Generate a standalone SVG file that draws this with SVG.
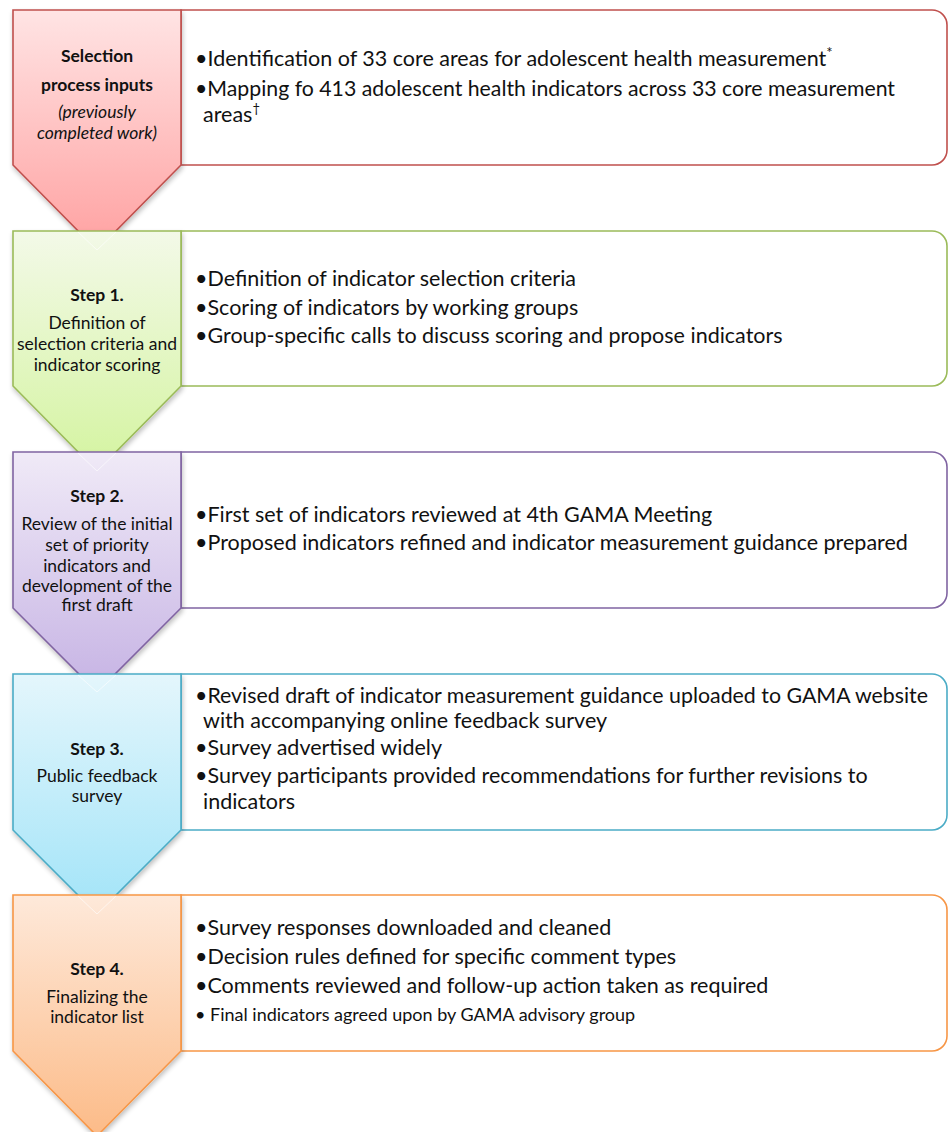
<svg xmlns="http://www.w3.org/2000/svg" width="948" height="1132" viewBox="0 0 948 1132">
<style>
.t{font-family:Lato,"Liberation Sans",sans-serif;font-size:21.5px;fill:#111}
.s{font-size:18px}
.l{font-family:Lato,"Liberation Sans",sans-serif;font-size:17.5px;fill:#111;text-anchor:middle}
.b{font-weight:bold}
.i{font-style:italic}
.box{fill:#fff;stroke-width:1.6}
.chev{stroke-width:1.6;filter:url(#sh)}
.ghost{fill:none;stroke:#fff;stroke-width:1;opacity:.6}
</style>
<defs>
<filter id="sh" x="-10%" y="-10%" width="130%" height="130%">
<feGaussianBlur in="SourceAlpha" stdDeviation="2.5"/>
<feOffset dx="1" dy="3" result="b"/>
<feComponentTransfer><feFuncA type="linear" slope="0.25"/></feComponentTransfer>
<feMerge><feMergeNode/><feMergeNode in="SourceGraphic"/></feMerge>
</filter>
<linearGradient id="gr" x1="0" y1="0" x2="0" y2="1"><stop offset="0" stop-color="#ffe4e4"/><stop offset="1" stop-color="#ffa1a1"/></linearGradient>
<linearGradient id="gg" x1="0" y1="0" x2="0" y2="1"><stop offset="0" stop-color="#f3f9e8"/><stop offset="1" stop-color="#d4f4a0"/></linearGradient>
<linearGradient id="gp" x1="0" y1="0" x2="0" y2="1"><stop offset="0" stop-color="#f0eaf7"/><stop offset="1" stop-color="#c6b3e4"/></linearGradient>
<linearGradient id="gb" x1="0" y1="0" x2="0" y2="1"><stop offset="0" stop-color="#e4f6fc"/><stop offset="1" stop-color="#a2e4f8"/></linearGradient>
<linearGradient id="go" x1="0" y1="0" x2="0" y2="1"><stop offset="0" stop-color="#fee9da"/><stop offset="1" stop-color="#fcbb88"/></linearGradient>
</defs>
<g id="connectors"/>

<g id="node-inputs">
<path class="box" stroke="#c0504d" d="M181,10 H932 A15,15 0 0 1 947,25 V150 A15,15 0 0 1 932,165 H181 Z"/>
<polygon class="chev" fill="url(#gr)" stroke="#c0504d" points="13,10 181,10 181,165 97,250 13,165"/>
<text class="l b" x="97" y="62">Selection</text>
<text class="l b" x="97" y="91">process inputs</text>
<text class="l i" x="97" y="118">(previously</text>
<text class="l i" x="97" y="139">completed work)</text>
<text class="t" x="195" y="66">•Identification of 33 core areas for adolescent health measurement<tspan font-size="15" dy="-8">*</tspan></text>
<text class="t" x="195" y="96" textLength="700" lengthAdjust="spacingAndGlyphs">•Mapping fo 413 adolescent health indicators across 33 core measurement</text>
<text class="t" x="203" y="122">areas<tspan font-size="13" dy="-9">†</tspan></text>
</g>

<g id="node-step1">
<path class="box" stroke="#9bbb59" d="M181,231 H932 A15,15 0 0 1 947,246 V371 A15,15 0 0 1 932,386 H181 Z"/>
<polygon class="chev" fill="url(#gg)" stroke="#9bbb59" points="13,231 181,231 181,386 97,471 13,386"/>
<polyline class="ghost" points="78,232 97,250 116,232"/>
<text class="l b" x="97" y="301">Step 1.</text>
<text class="l" x="97" y="329">Definition of</text>
<text class="l" x="97" y="350">selection criteria and</text>
<text class="l" x="97" y="371">indicator scoring</text>
<text class="t" x="195" y="286">•Definition of indicator selection criteria</text>
<text class="t" x="195" y="315">•Scoring of indicators by working groups</text>
<text class="t" x="195" y="343">•Group-specific calls to discuss scoring and propose indicators</text>
</g>

<g id="node-step2">
<path class="box" stroke="#8064a2" d="M181,452 H932 A15,15 0 0 1 947,467 V593 A15,15 0 0 1 932,608 H181 Z"/>
<polygon class="chev" fill="url(#gp)" stroke="#8064a2" points="13,452 181,452 181,608 97,692 13,608"/>
<polyline class="ghost" points="78,453 97,471 116,453"/>
<text class="l b" x="97" y="502">Step 2.</text>
<text class="l" x="97" y="530">Review of the initial</text>
<text class="l" x="97" y="551">set of priority</text>
<text class="l" x="97" y="572">indicators and</text>
<text class="l" x="97" y="592">development of the</text>
<text class="l" x="97" y="611">first draft</text>
<text class="t" x="195" y="522">•First set of indicators reviewed at 4th GAMA Meeting</text>
<text class="t" x="195" y="550">•Proposed indicators refined and indicator measurement guidance prepared</text>
</g>

<g id="node-step3">
<path class="box" stroke="#4bacc6" d="M181,674 H932 A15,15 0 0 1 947,689 V815 A15,15 0 0 1 932,830 H181 Z"/>
<polygon class="chev" fill="url(#gb)" stroke="#4bacc6" points="13,674 181,674 181,830 97,914 13,830"/>
<polyline class="ghost" points="78,675 97,692 116,675"/>
<text class="l b" x="97" y="755">Step 3.</text>
<text class="l" x="97" y="782">Public feedback</text>
<text class="l" x="97" y="802">survey</text>
<text class="t" x="195" y="703" textLength="733" lengthAdjust="spacingAndGlyphs">•Revised draft of indicator measurement guidance uploaded to GAMA website</text>
<text class="t" x="203" y="728">with accompanying online feedback survey</text>
<text class="t" x="195" y="755">•Survey advertised widely</text>
<text class="t" x="195" y="783">•Survey participants provided recommendations for further revisions to</text>
<text class="t" x="203" y="809">indicators</text>
</g>

<g id="node-step4">
<path class="box" stroke="#f79646" d="M181,895 H932 A15,15 0 0 1 947,910 V1036 A15,15 0 0 1 932,1051 H181 Z"/>
<polygon class="chev" fill="url(#go)" stroke="#f79646" points="13,895 181,895 181,1051 97,1136 13,1051"/>
<polyline class="ghost" points="78,896 97,914 116,896"/>
<text class="l b" x="97" y="975">Step 4.</text>
<text class="l" x="97" y="1003">Finalizing the</text>
<text class="l" x="97" y="1023">indicator list</text>
<text class="t" x="195" y="935">•Survey responses downloaded and cleaned</text>
<text class="t" x="195" y="964">•Decision rules defined for specific comment types</text>
<text class="t" x="195" y="993">•Comments reviewed and follow-up action taken as required</text>
<text class="t s" x="195" y="1021">• Final indicators agreed upon by GAMA advisory group</text>
</g>
</svg>
